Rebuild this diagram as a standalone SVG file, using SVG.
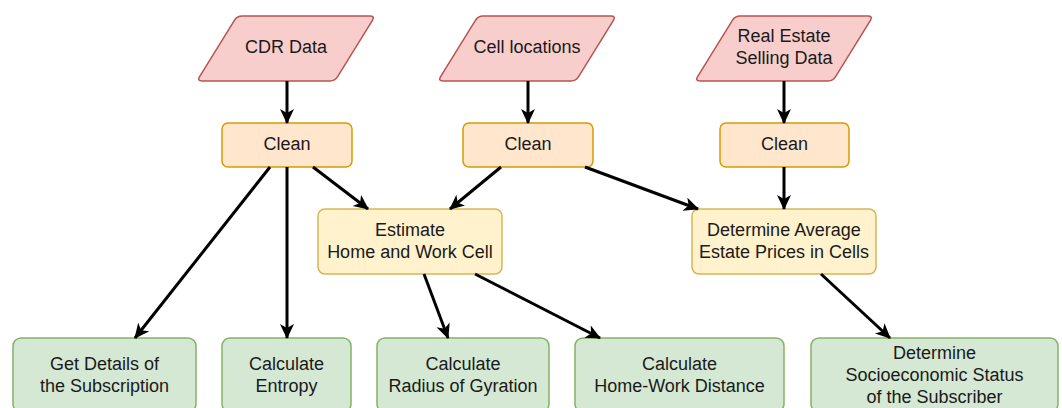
<svg xmlns="http://www.w3.org/2000/svg" width="1062" height="408" viewBox="0 0 1062 408">
<style>
text{font-family:"Liberation Sans",Arial,Helvetica,sans-serif;font-size:18px;fill:#1a1a1a;text-anchor:middle}
.in{fill:#f8cecc;stroke:#b85450;stroke-width:1.5;stroke-linejoin:round}
.cl{fill:#ffe6cc;stroke:#d79b00;stroke-width:1.5}
.mid{fill:#fff2cc;stroke:#d6b656;stroke-width:1.5}
.out{fill:#d5e8d4;stroke:#82b366;stroke-width:1.5}
.edge{stroke:#000;stroke-width:3;fill:none;marker-end:url(#arr)}
</style>
<defs>
<marker id="arr" markerUnits="userSpaceOnUse" markerWidth="18" markerHeight="16" refX="14" refY="7" orient="auto">
<path d="M0,0 L15,7 L0,14 L4,7 Z" fill="#000"/>
</marker>
<path id="para" d="M242,16 L370,16 Q375,16 372.4,20.3 L337.6,76.7 Q335,81 330,81 L202,81 Q197,81 199.6,76.7 L234.4,20.3 Q237,16 242,16 Z"/>
</defs>
<rect width="1062" height="408" fill="#fff"/>
<g id="cdr"><use href="#para" class="in"/><text x="286" y="53">CDR Data</text></g>
<g id="cells"><use href="#para" class="in" transform="translate(241,0)"/><text x="527" y="53">Cell locations</text></g>
<g id="realestate"><use href="#para" class="in" transform="translate(498,0)"/><text x="784" y="41.5">Real Estate</text><text x="784" y="64">Selling Data</text></g>
<g id="clean1"><rect class="cl" x="222" y="123" width="130" height="44" rx="6"/><text x="287" y="149.5">Clean</text></g>
<g id="clean2"><rect class="cl" x="463" y="123" width="130" height="44" rx="6"/><text x="528" y="149.5">Clean</text></g>
<g id="clean3"><rect class="cl" x="720" y="123" width="129" height="44" rx="6"/><text x="784.5" y="149.5">Clean</text></g>
<g id="estimate"><rect class="mid" x="318" y="209" width="184" height="65" rx="7"/><text x="410" y="235.5">Estimate</text><text x="410" y="257.5">Home and Work Cell</text></g>
<g id="avgprice"><rect class="mid" x="692" y="209" width="184" height="65" rx="7"/><text x="784" y="235.5">Determine Average</text><text x="784" y="257.5">Estate Prices in Cells</text></g>
<g id="details"><rect class="out" x="13" y="338" width="183" height="74" rx="8"/><text x="104.5" y="369.5">Get Details of</text><text x="104.5" y="391.5">the Subscription</text></g>
<g id="entropy"><rect class="out" x="222" y="338" width="129" height="74" rx="8"/><text x="286.5" y="369.5">Calculate</text><text x="286.5" y="391.5">Entropy</text></g>
<g id="radius"><rect class="out" x="377" y="338" width="172" height="74" rx="8"/><text x="463" y="369.5">Calculate</text><text x="463" y="391.5">Radius of Gyration</text></g>
<g id="homework"><rect class="out" x="575" y="338" width="209" height="74" rx="8"/><text x="679.5" y="369.5">Calculate</text><text x="679.5" y="391.5">Home-Work Distance</text></g>
<g id="socio"><rect class="out" x="811" y="338" width="247" height="74" rx="8"/><text x="934.5" y="358.5">Determine</text><text x="934.5" y="380.5">Socioeconomic Status</text><text x="934.5" y="402.5">of the Subscriber</text></g>
<g id="connectors">
<line class="edge" x1="287" y1="81" x2="287" y2="123"/>
<line class="edge" x1="528" y1="81" x2="528" y2="123"/>
<line class="edge" x1="784" y1="81" x2="784" y2="123"/>
<line class="edge" x1="270" y1="167" x2="135" y2="338"/>
<line class="edge" x1="287" y1="167" x2="287" y2="338"/>
<line class="edge" x1="313" y1="167" x2="368" y2="209"/>
<line class="edge" x1="501" y1="167" x2="450" y2="209"/>
<line class="edge" x1="585" y1="167" x2="698" y2="209"/>
<line class="edge" x1="784" y1="167" x2="784" y2="209"/>
<line class="edge" x1="424" y1="274" x2="448" y2="338"/>
<line class="edge" x1="475" y1="274" x2="600" y2="338"/>
<line class="edge" x1="821" y1="274" x2="890" y2="338"/>
</g>
</svg>
